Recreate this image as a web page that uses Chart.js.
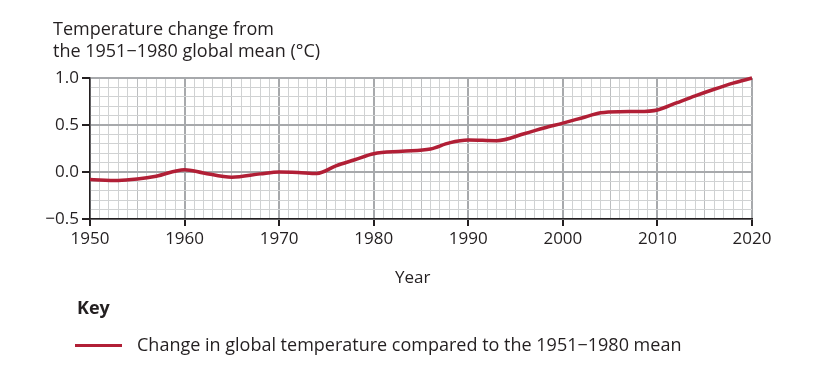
<!DOCTYPE html>
<html>
<head>
<meta charset="utf-8">
<script src="https://cdn.jsdelivr.net/npm/chart.js@4/dist/chart.umd.min.js"></script>
<style>
  body { margin: 0; background: #fff; }
  #wrap { position: relative; width: 833px; height: 375px; font-family: "Open Sans", sans-serif; color: #231f20; }
  canvas { position: absolute; left: 0; top: 0; }
  .txt { position: absolute; white-space: nowrap; font-size: 18px; line-height: 1; }
  #ytitle { left: 53px; top: 17px; line-height: 22px; }
  #xtitle { left: 395px; top: 268px; font-size: 17px; }
  #key { left: 77px; top: 298px; font-weight: bold; }
  #keyline { position: absolute; left: 75px; top: 344px; width: 47px; height: 3px; background: #b11f36; }
  #keytext { left: 137px; top: 335px; }
</style>
</head>
<body>
<div id="wrap">
  <canvas id="chart" width="833" height="375"></canvas>
  <div class="txt" id="ytitle">Temperature change from<br>the 1951−1980 global mean (°C)</div>
  <div class="txt" id="xtitle">Year</div>
  <div class="txt" id="key">Key</div>
  <div id="keyline"></div>
  <div class="txt" id="keytext">Change in global temperature compared to the 1951−1980 mean</div>
</div>
<script>
const years = [1950, 1953, 1955, 1957, 1960, 1962, 1965, 1968, 1970, 1972, 1974, 1976, 1978, 1980,
  1983, 1986, 1988, 1990, 1993, 1996, 1998, 2000, 2002, 2004, 2006, 2008, 2010, 2012, 2014, 2016, 2018, 2020];
const tempChange = [-0.08, -0.09, -0.075, -0.045, 0.025, -0.01, -0.055, -0.02, 0.0, -0.005, -0.015, 0.065, 0.13, 0.195,
  0.22, 0.245, 0.31, 0.34, 0.333, 0.41, 0.468, 0.52, 0.575, 0.63, 0.642, 0.643, 0.66, 0.735, 0.81, 0.88, 0.945, 1.0];
const xTickLabels = [1950, 1960, 1970, 1980, 1990, 2000, 2010, 2020];
const yTickLabels = [-0.5, 0.0, 0.5, 1.0];

const ink = '#231f20';
const lineRed = '#b11f36';

const points = years.map((y, i) => ({ x: y, y: tempChange[i] }));

function xGridColor(v) {
  if (v % 10 === 0) return '#a7a9ac';
  if (v % 5 === 0) return '#bcbec0';
  return '#d0d2d3';
}

function yStep(v) {
  return Math.round(v * 10);
}

new Chart(document.getElementById('chart').getContext('2d'), {
  type: 'line',
  data: {
    datasets: [{
      data: points,
      borderColor: lineRed,
      borderWidth: 3.5,
      pointRadius: 0,
      cubicInterpolationMode: 'monotone',
      clip: false,
    }],
  },
  options: {
    responsive: false,
    animation: false,
    devicePixelRatio: 1,
    layout: { padding: { left: 0, top: 78, right: 81, bottom: 0 } },
    plugins: { legend: { display: false }, tooltip: { enabled: false } },
    scales: {
      x: {
        type: 'linear',
        min: 1950,
        max: 2020,
        afterFit: (s) => { s.height = 156; },
        border: { display: true, color: ink, width: 1.5 },
        grid: {
          color: (c) => xGridColor(c.tick.value),
          lineWidth: (c) => (c.tick.value % 10 === 0 ? 2 : 1),
          tickLength: 7,
          tickColor: (c) => (xTickLabels.includes(c.tick.value) ? ink : 'rgba(0,0,0,0)'),
        },
        ticks: {
          stepSize: 1,
          autoSkip: false,
          maxRotation: 0,
          padding: 3,
          color: ink,
          font: { family: 'Open Sans', size: 17 },
          callback: (v) => (xTickLabels.includes(v) ? String(v) : ''),
        },
      },
      y: {
        min: -0.5,
        max: 1.0,
        afterFit: (s) => { s.width = 90; },
        border: { display: true, color: ink, width: 1.5 },
        grid: {
          color: (c) => (yStep(c.tick.value) % 5 === 0 ? '#a7a9ac' : '#d0d2d3'),
          lineWidth: (c) => (yStep(c.tick.value) % 5 === 0 ? 2 : 1),
          tickLength: 8,
          tickColor: (c) => (yTickLabels.some((t) => yStep(t) === yStep(c.tick.value)) ? ink : 'rgba(0,0,0,0)'),
        },
        ticks: {
          stepSize: 0.1,
          autoSkip: false,
          padding: 3,
          color: ink,
          font: { family: 'Open Sans', size: 17 },
          callback: (v) => {
            const hit = yTickLabels.find((t) => yStep(t) === yStep(v));
            return hit === undefined ? '' : hit.toFixed(1).replace('-', '−');
          },
        },
      },
    },
  },
});
</script>
</body>
</html>
